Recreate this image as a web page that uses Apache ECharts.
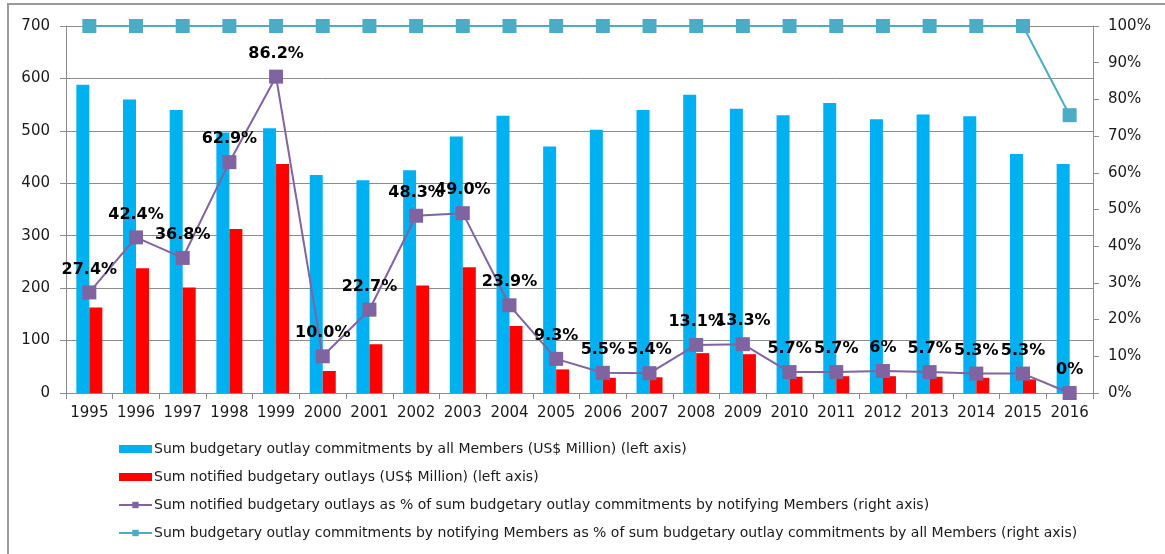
<!DOCTYPE html>
<html>
<head>
<meta charset="utf-8">
<script src="https://cdn.jsdelivr.net/npm/echarts@6/dist/echarts.min.js"></script>
<style>
  html, body { margin: 0; padding: 0; background: #fff; }
  #chart { width: 1165px; height: 554px; }
</style>
</head>
<body>
<div id="chart"></div>
<script>
// data
var years = ['1995','1996','1997','1998','1999','2000','2001','2002','2003','2004','2005',
             '2006','2007','2008','2009','2010','2011','2012','2013','2014','2015','2016'];
var commitAll = [588, 560, 540, 497, 505, 416, 406, 425, 489, 529, 470,
                 502, 540, 569, 542, 530, 553, 522, 531, 528, 456, 437];
var notified = [163, 238, 201, 313, 437, 42, 93, 205, 240, 128, 45,
                29, 30, 76, 74, 31, 32, 32, 31, 29, 26, 0];
var notifiedPct = [27.4, 42.4, 36.8, 62.9, 86.2, 10.0, 22.7, 48.3, 49.0, 23.9, 9.3,
                   5.5, 5.4, 13.1, 13.3, 5.7, 5.7, 6, 5.7, 5.3, 5.3, 0];
var notifiedPctLabels = ['27.4%','42.4%','36.8%','62.9%','86.2%','10.0%','22.7%','48.3%','49.0%','23.9%','9.3%',
                         '5.5%','5.4%','13.1%','13.3%','5.7%','5.7%','6%','5.7%','5.3%','5.3%','0%'];
var coveragePct = [100, 100, 100, 100, 100, 100, 100, 100, 100, 100, 100,
                   100, 100, 100, 100, 100, 100, 100, 100, 100, 100, 75.7];
var leftTicks = { min: 0, max: 700, interval: 100 };
var rightTicks = { min: 0, max: 100, interval: 10 };

var names = [
  'Sum budgetary outlay commitments by all Members (US$ Million) (left axis)',
  'Sum notified budgetary outlays (US$ Million) (left axis)',
  'Sum notified budgetary outlays as % of sum budgetary outlay commitments by notifying Members (right axis)',
  'Sum budgetary outlay commitments by notifying Members as % of sum budgetary outlay commitments by all Members (right axis)'
];

var font = 'DejaVu Sans';
var gridColor = '#8c8c8c';
var textColor = '#1a1a1a';

var myChart = echarts.init(document.getElementById('chart'));
var option = {
  animation: false,
  textStyle: { fontFamily: font },
  grid: { left: 66, right: 72, top: 26, bottom: 161 },
  graphic: [{
    type: 'rect',
    shape: { x: 8, y: 4, width: 1200, height: 600 },
    style: { fill: 'none', stroke: '#9a9a9a', lineWidth: 2 },
    silent: true
  }],
  legend: {
    orient: 'vertical',
    left: 113,
    top: 437,
    itemWidth: 33,
    itemHeight: 8,
    itemGap: 14,
    textStyle: { fontSize: 14, color: textColor, fontFamily: font, lineHeight: 14, padding: [0, 0, 0, -3] },
    data: [
      { name: names[0], icon: 'rect' },
      { name: names[1], icon: 'rect' },
      { name: names[2] },
      { name: names[3] }
    ]
  },
  xAxis: {
    type: 'category',
    data: years,
    axisLine: { lineStyle: { color: gridColor } },
    axisTick: { show: true, lineStyle: { color: gridColor }, length: 6 },
    axisLabel: { color: textColor, fontSize: 15, fontFamily: font, margin: 13, interval: 0 }
  },
  yAxis: [
    {
      type: 'value',
      min: leftTicks.min, max: leftTicks.max, interval: leftTicks.interval,
      axisLine: { show: true, lineStyle: { color: gridColor } },
      axisTick: { show: true, lineStyle: { color: gridColor }, length: 6 },
      axisLabel: { color: textColor, fontSize: 15, fontFamily: font, margin: 16 },
      splitLine: { show: true, lineStyle: { color: gridColor, width: 1 } }
    },
    {
      type: 'value',
      min: rightTicks.min, max: rightTicks.max, interval: rightTicks.interval,
      axisLine: { show: true, lineStyle: { color: gridColor } },
      axisTick: { show: true, lineStyle: { color: gridColor }, length: 6 },
      axisLabel: { color: textColor, fontSize: 15, fontFamily: font, margin: 15, formatter: '{value}%' },
      splitLine: { show: false }
    }
  ],
  series: [
    {
      name: names[0],
      type: 'bar',
      yAxisIndex: 0,
      data: commitAll,
      barWidth: 13,
      barGap: '0%',
      itemStyle: { color: '#00B0F0' }
    },
    {
      name: names[1],
      type: 'bar',
      yAxisIndex: 0,
      data: notified,
      barWidth: 13,
      barGap: '0%',
      itemStyle: { color: '#FF0000' }
    },
    {
      name: names[2],
      type: 'line',
      yAxisIndex: 1,
      data: notifiedPct,
      symbol: 'rect',
      symbolSize: 14,
      lineStyle: { color: '#8064A2', width: 2 },
      itemStyle: { color: '#8064A2' },
      z: 5,
      label: {
        show: true,
        position: 'top',
        distance: 8,
        color: '#000',
        fontWeight: 'bold',
        fontSize: 16,
        fontFamily: font,
        formatter: function (p) { return notifiedPctLabels[p.dataIndex]; }
      }
    },
    {
      name: names[3],
      type: 'line',
      yAxisIndex: 1,
      data: coveragePct,
      symbol: 'rect',
      symbolSize: 14,
      lineStyle: { color: '#4BACC6', width: 2 },
      itemStyle: { color: '#4BACC6' },
      z: 4
    }
  ]
};
myChart.setOption(option);
window.onresize = function () { myChart.resize(); };
</script>
</body>
</html>
